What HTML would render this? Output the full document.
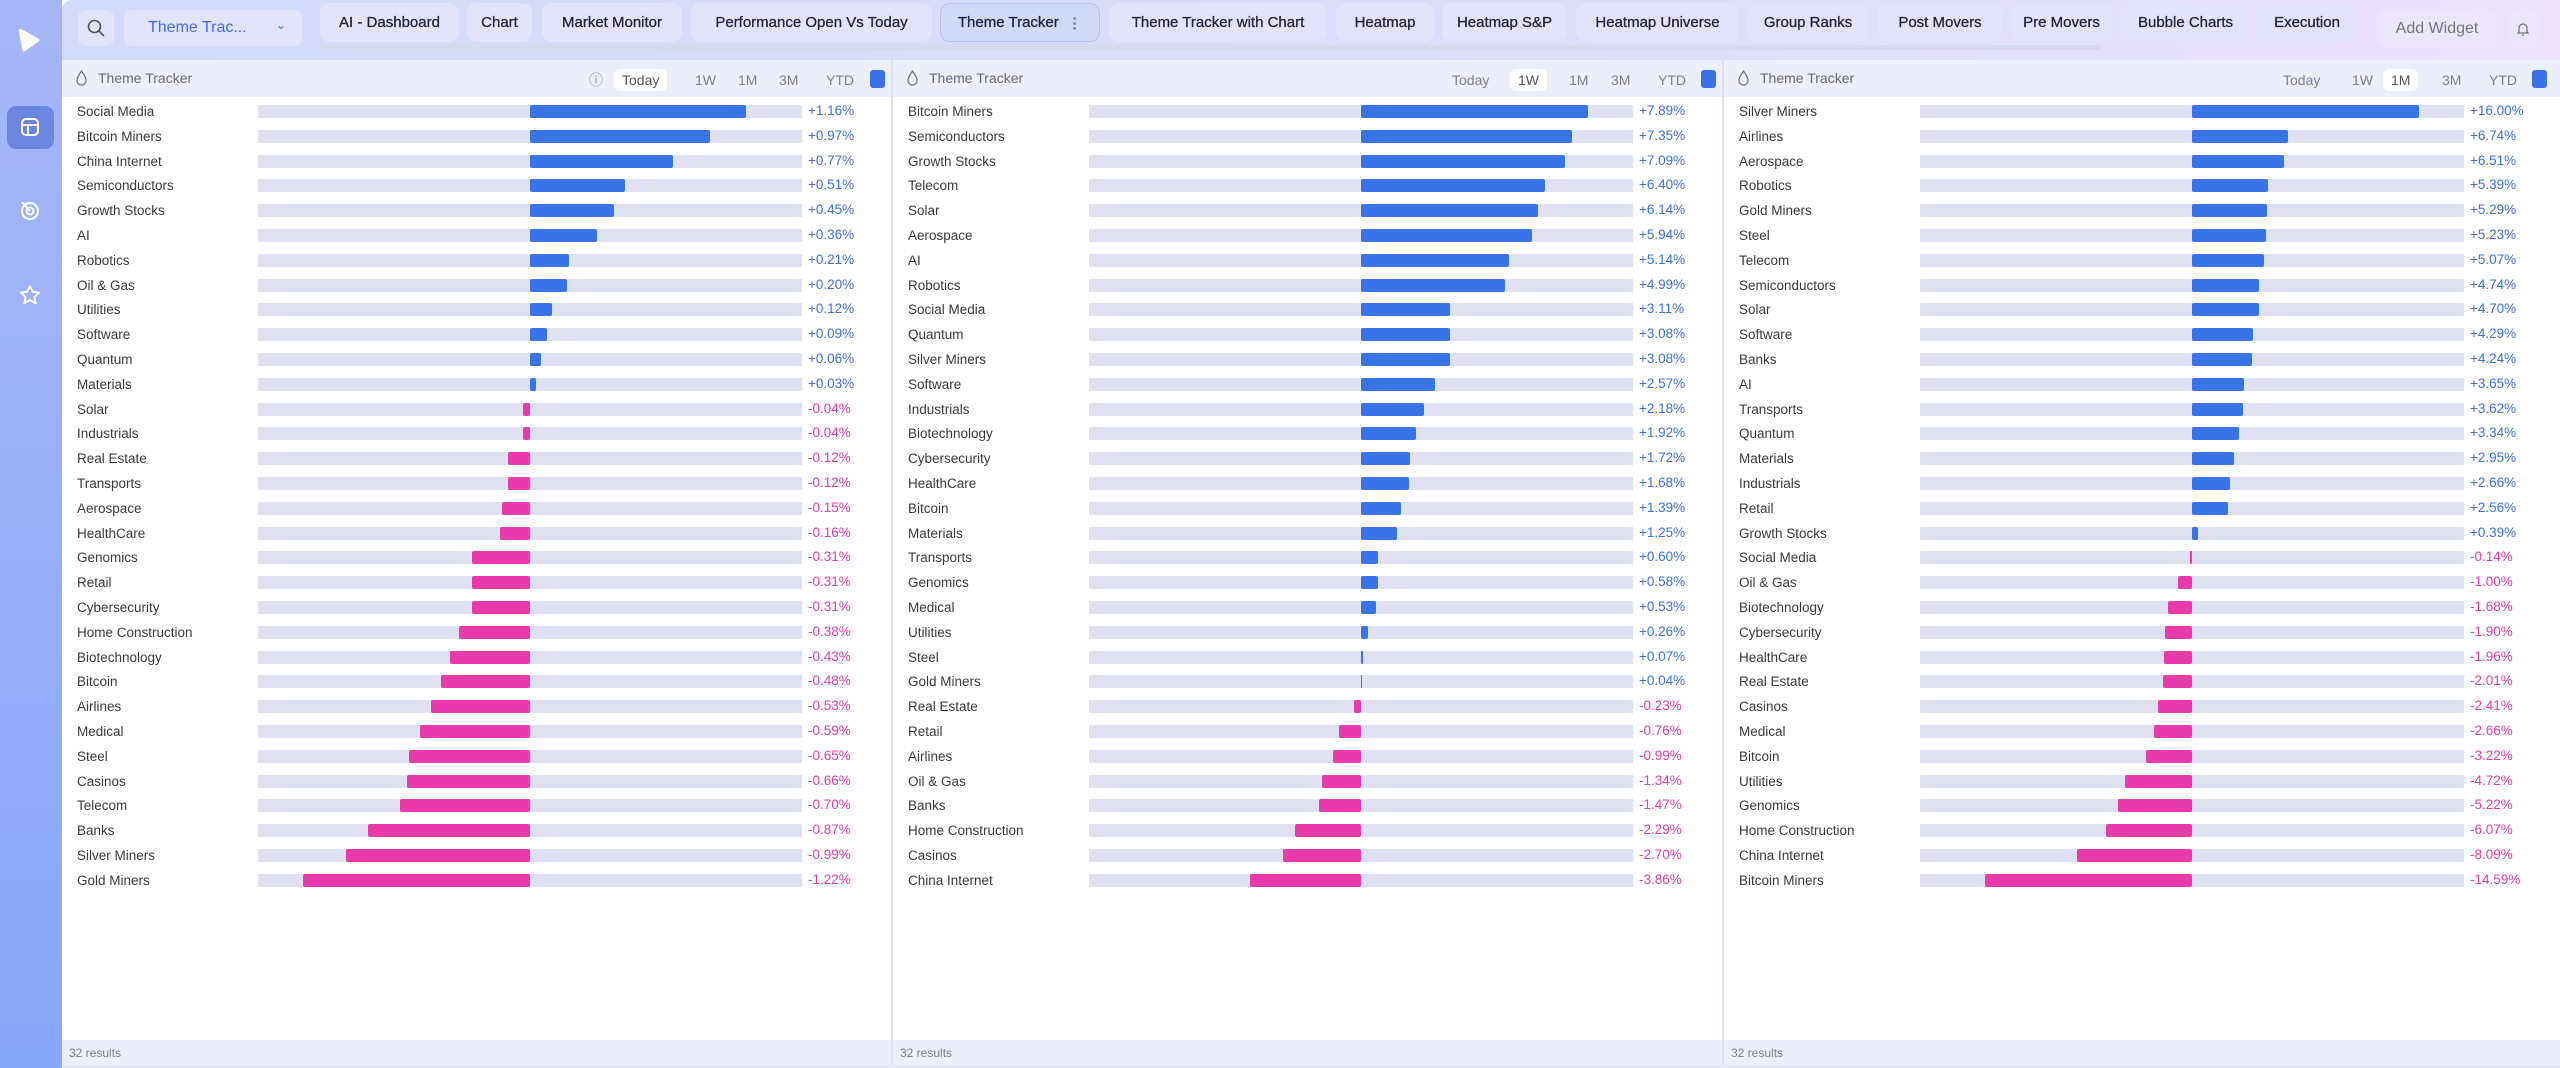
<!DOCTYPE html>
<html><head><meta charset="utf-8"><style>
*{box-sizing:border-box;margin:0;padding:0}
body{width:2560px;height:1068px;overflow:hidden;font-family:"Liberation Sans",sans-serif;background:#fff;position:relative}
.side{position:absolute;left:0;top:0;width:62px;height:1068px;background:linear-gradient(#a6b6f6,#88a8fb)}
.top{position:absolute;left:62px;top:0;right:0;height:60px;background:linear-gradient(90deg,#d3d9f9,#dcdcf9 60%,#ebe2f9);border-radius:10px 0 0 0}
.tab{position:absolute;top:3px;height:39px;border-radius:10px;background:#e2e3fb;color:#23263f;font-size:15px;display:flex;align-items:center;justify-content:center;white-space:nowrap;-webkit-text-stroke:0.3px #23263f}
.panel{position:absolute;top:60px;height:1008px;background:#fff;border-right:2px solid #dde1f3}
.hd{position:absolute;left:0;right:0;top:0;height:37px;background:#eceefb}
.hd .t{position:absolute;left:36px;top:10px;font-size:14px;color:#666a80}
.rg{position:absolute;top:9px;font-size:14px;color:#7b7f95;height:22px;line-height:22px;padding:0 8px;border-radius:6px}
.rg.a{background:#fff;color:#555}
.sq{position:absolute;top:10px;width:15px;height:18px;border-radius:3px;background:#3a72e6}
.rows{position:absolute;top:99px;left:0;right:0}
.r{height:24.8px;position:relative}
.r .l{position:absolute;left:15px;top:5px;font-size:13.5px;color:#3a3a3a}
.r .tr{position:absolute;left:196px;width:544px;top:6px;height:13px;background:#dfe1f0}
.r .tr i{position:absolute;top:0;height:13px;border-radius:2px}
.r .tr i.p{left:272px;background:#3874e6}
.r .tr i.n{right:272px;background:#e93aab}
.r .v{position:absolute;left:746px;top:4px;font-size:13.5px}
.v.p{color:#3a6fe8}.v.n{color:#e93aa8}
.ft{position:absolute;left:0;right:0;top:980px;height:25px;background:#eceefb;font-size:12px;color:#7b7f95;padding:6px 0 0 7px}
.fl{position:absolute;left:14px;top:10px}
</style></head><body>
<div class="side">
<svg style="position:absolute;left:18px;top:28px" width="22" height="24" viewBox="0 0 22 24"><path d="M2 2 L20 12 L6 22 Z" fill="#fff" stroke="#fff" stroke-width="3" stroke-linejoin="round"/></svg>
<div style="position:absolute;left:7px;top:106px;width:47px;height:43px;border-radius:9px;background:#6b86de"></div>
<svg style="position:absolute;left:20px;top:117px" width="20" height="20" viewBox="0 0 20 20" fill="none" stroke="#fff" stroke-width="2"><rect x="2" y="2" width="16" height="16" rx="4"/><path d="M2 8h16M8 8v10"/></svg>
<svg style="position:absolute;left:19px;top:199px" width="22" height="22" viewBox="0 0 22 22" fill="none" stroke="#fff" stroke-width="2"><circle cx="11" cy="12" r="8"/><circle cx="11" cy="12" r="3.5"/><path d="M3 3l8 9"/></svg>
<svg style="position:absolute;left:19px;top:284px" width="22" height="22" viewBox="0 0 24 24" fill="none" stroke="#fff" stroke-width="2" stroke-linejoin="round"><path d="M12 2l3 6.5 7 .8-5.2 4.8 1.4 7-6.2-3.6-6.2 3.6 1.4-7L2 9.3l7-.8z"/></svg>
</div>
<div class="top">
<div style="position:absolute;left:16px;top:10px;width:36px;height:36px;border-radius:8px;background:#e2e3fb"></div>
<svg style="position:absolute;left:25px;top:19px" width="18" height="18" viewBox="0 0 18 18" fill="none" stroke="#555" stroke-width="1.6"><circle cx="7.5" cy="7.5" r="6"/><path d="M12 12l5 5"/></svg>
<div style="position:absolute;left:62px;top:10px;width:178px;height:36px;border-radius:8px;background:#e2e3fb;color:#3a6fe8;font-size:16px;padding:9px 0 0 24px">Theme Trac... <span style="position:absolute;left:152px;top:8px;font-size:12px">&#8964;</span></div>
<div style="position:absolute;left:258px;top:45px;width:1780px;height:5px;border-radius:3px;background:#d6d8ee"></div>
</div>
<div class="tab" style="left:320px;width:139px">AI - Dashboard</div>
<div class="tab" style="left:467px;width:65px">Chart</div>
<div class="tab" style="left:542px;width:140px">Market Monitor</div>
<div class="tab" style="left:691px;width:241px">Performance Open Vs Today</div>
<div class="tab" style="left:940px;width:160px;background:#d2d8f8;border:1px solid #b9c4f2">Theme Tracker&nbsp;&nbsp;<span style="color:#999">&#8942;</span></div>
<div class="tab" style="left:1109px;width:218px">Theme Tracker with Chart</div>
<div class="tab" style="left:1336px;width:98px">Heatmap</div>
<div class="tab" style="left:1442px;width:125px">Heatmap S&amp;P</div>
<div class="tab" style="left:1576px;width:163px">Heatmap Universe</div>
<div class="tab" style="left:1747px;width:122px">Group Ranks</div>
<div class="tab" style="left:1878px;width:124px">Post Movers</div>
<div class="tab" style="left:2010px;width:103px">Pre Movers</div>
<div class="tab" style="left:2121px;width:129px">Bubble Charts</div>
<div class="tab" style="left:2258px;width:98px">Execution</div>
<div class="tab" style="left:2377px;top:10px;width:120px;height:37px;background:#ebe5fa;color:#777;-webkit-text-stroke:0;font-size:16px">Add Widget</div>
<div class="tab" style="left:2508px;top:10px;width:30px;height:37px;background:#ebe5fa;-webkit-text-stroke:0"><svg width="12" height="16" viewBox="0 0 12 16" fill="none" stroke="#777" stroke-width="1.3"><path d="M2 11V7a4 4 0 0 1 8 0v4l1 1H1z"/><path d="M5 14h2"/></svg></div>

<!-- Panel 1 -->
<div class="panel" style="left:62px;width:831px">
<div class="hd"><svg class="fl" width="11" height="16" viewBox="0 0 11 16" fill="none" stroke="#777" stroke-width="1.3"><path d="M5.5 1C3 5 1 7 1 10.5a4.5 4.5 0 0 0 9 0C10 7 8 5 5.5 1z"/></svg><span class="t">Theme Tracker</span>
<span class="rg" style="left:519px;color:#888">&#9432;</span>
<span class="rg a" style="left:552px">Today</span><span class="rg" style="left:625px">1W</span><span class="rg" style="left:668px">1M</span><span class="rg" style="left:709px">3M</span><span class="rg" style="left:756px">YTD</span><span class="sq" style="left:808px"></span></div>
<div class="rows" style="top:39px">
<div class="r"><span class="l">Social Media</span><div class="tr"><i class="p" style="width:216px"></i></div><span class="v p">+1.16%</span></div>
<div class="r"><span class="l">Bitcoin Miners</span><div class="tr"><i class="p" style="width:180px"></i></div><span class="v p">+0.97%</span></div>
<div class="r"><span class="l">China Internet</span><div class="tr"><i class="p" style="width:143px"></i></div><span class="v p">+0.77%</span></div>
<div class="r"><span class="l">Semiconductors</span><div class="tr"><i class="p" style="width:95px"></i></div><span class="v p">+0.51%</span></div>
<div class="r"><span class="l">Growth Stocks</span><div class="tr"><i class="p" style="width:84px"></i></div><span class="v p">+0.45%</span></div>
<div class="r"><span class="l">AI</span><div class="tr"><i class="p" style="width:67px"></i></div><span class="v p">+0.36%</span></div>
<div class="r"><span class="l">Robotics</span><div class="tr"><i class="p" style="width:39px"></i></div><span class="v p">+0.21%</span></div>
<div class="r"><span class="l">Oil &amp; Gas</span><div class="tr"><i class="p" style="width:37px"></i></div><span class="v p">+0.20%</span></div>
<div class="r"><span class="l">Utilities</span><div class="tr"><i class="p" style="width:22px"></i></div><span class="v p">+0.12%</span></div>
<div class="r"><span class="l">Software</span><div class="tr"><i class="p" style="width:17px"></i></div><span class="v p">+0.09%</span></div>
<div class="r"><span class="l">Quantum</span><div class="tr"><i class="p" style="width:11px"></i></div><span class="v p">+0.06%</span></div>
<div class="r"><span class="l">Materials</span><div class="tr"><i class="p" style="width:6px"></i></div><span class="v p">+0.03%</span></div>
<div class="r"><span class="l">Solar</span><div class="tr"><i class="n" style="width:7px"></i></div><span class="v n">-0.04%</span></div>
<div class="r"><span class="l">Industrials</span><div class="tr"><i class="n" style="width:7px"></i></div><span class="v n">-0.04%</span></div>
<div class="r"><span class="l">Real Estate</span><div class="tr"><i class="n" style="width:22px"></i></div><span class="v n">-0.12%</span></div>
<div class="r"><span class="l">Transports</span><div class="tr"><i class="n" style="width:22px"></i></div><span class="v n">-0.12%</span></div>
<div class="r"><span class="l">Aerospace</span><div class="tr"><i class="n" style="width:28px"></i></div><span class="v n">-0.15%</span></div>
<div class="r"><span class="l">HealthCare</span><div class="tr"><i class="n" style="width:30px"></i></div><span class="v n">-0.16%</span></div>
<div class="r"><span class="l">Genomics</span><div class="tr"><i class="n" style="width:58px"></i></div><span class="v n">-0.31%</span></div>
<div class="r"><span class="l">Retail</span><div class="tr"><i class="n" style="width:58px"></i></div><span class="v n">-0.31%</span></div>
<div class="r"><span class="l">Cybersecurity</span><div class="tr"><i class="n" style="width:58px"></i></div><span class="v n">-0.31%</span></div>
<div class="r"><span class="l">Home Construction</span><div class="tr"><i class="n" style="width:71px"></i></div><span class="v n">-0.38%</span></div>
<div class="r"><span class="l">Biotechnology</span><div class="tr"><i class="n" style="width:80px"></i></div><span class="v n">-0.43%</span></div>
<div class="r"><span class="l">Bitcoin</span><div class="tr"><i class="n" style="width:89px"></i></div><span class="v n">-0.48%</span></div>
<div class="r"><span class="l">Airlines</span><div class="tr"><i class="n" style="width:99px"></i></div><span class="v n">-0.53%</span></div>
<div class="r"><span class="l">Medical</span><div class="tr"><i class="n" style="width:110px"></i></div><span class="v n">-0.59%</span></div>
<div class="r"><span class="l">Steel</span><div class="tr"><i class="n" style="width:121px"></i></div><span class="v n">-0.65%</span></div>
<div class="r"><span class="l">Casinos</span><div class="tr"><i class="n" style="width:123px"></i></div><span class="v n">-0.66%</span></div>
<div class="r"><span class="l">Telecom</span><div class="tr"><i class="n" style="width:130px"></i></div><span class="v n">-0.70%</span></div>
<div class="r"><span class="l">Banks</span><div class="tr"><i class="n" style="width:162px"></i></div><span class="v n">-0.87%</span></div>
<div class="r"><span class="l">Silver Miners</span><div class="tr"><i class="n" style="width:184px"></i></div><span class="v n">-0.99%</span></div>
<div class="r"><span class="l">Gold Miners</span><div class="tr"><i class="n" style="width:227px"></i></div><span class="v n">-1.22%</span></div>
</div>
<div class="ft">32 results</div>
</div>

<!-- Panel 2 -->
<div class="panel" style="left:893px;width:831px">
<div class="hd"><svg class="fl" width="11" height="16" viewBox="0 0 11 16" fill="none" stroke="#777" stroke-width="1.3"><path d="M5.5 1C3 5 1 7 1 10.5a4.5 4.5 0 0 0 9 0C10 7 8 5 5.5 1z"/></svg><span class="t">Theme Tracker</span>
<span class="rg" style="left:551px">Today</span><span class="rg a" style="left:617px">1W</span><span class="rg" style="left:668px">1M</span><span class="rg" style="left:710px">3M</span><span class="rg" style="left:757px">YTD</span><span class="sq" style="left:808px"></span></div>
<div class="rows" style="top:39px">
<div class="r"><span class="l">Bitcoin Miners</span><div class="tr"><i class="p" style="width:227px"></i></div><span class="v p">+7.89%</span></div>
<div class="r"><span class="l">Semiconductors</span><div class="tr"><i class="p" style="width:211px"></i></div><span class="v p">+7.35%</span></div>
<div class="r"><span class="l">Growth Stocks</span><div class="tr"><i class="p" style="width:204px"></i></div><span class="v p">+7.09%</span></div>
<div class="r"><span class="l">Telecom</span><div class="tr"><i class="p" style="width:184px"></i></div><span class="v p">+6.40%</span></div>
<div class="r"><span class="l">Solar</span><div class="tr"><i class="p" style="width:177px"></i></div><span class="v p">+6.14%</span></div>
<div class="r"><span class="l">Aerospace</span><div class="tr"><i class="p" style="width:171px"></i></div><span class="v p">+5.94%</span></div>
<div class="r"><span class="l">AI</span><div class="tr"><i class="p" style="width:148px"></i></div><span class="v p">+5.14%</span></div>
<div class="r"><span class="l">Robotics</span><div class="tr"><i class="p" style="width:144px"></i></div><span class="v p">+4.99%</span></div>
<div class="r"><span class="l">Social Media</span><div class="tr"><i class="p" style="width:89px"></i></div><span class="v p">+3.11%</span></div>
<div class="r"><span class="l">Quantum</span><div class="tr"><i class="p" style="width:89px"></i></div><span class="v p">+3.08%</span></div>
<div class="r"><span class="l">Silver Miners</span><div class="tr"><i class="p" style="width:89px"></i></div><span class="v p">+3.08%</span></div>
<div class="r"><span class="l">Software</span><div class="tr"><i class="p" style="width:74px"></i></div><span class="v p">+2.57%</span></div>
<div class="r"><span class="l">Industrials</span><div class="tr"><i class="p" style="width:63px"></i></div><span class="v p">+2.18%</span></div>
<div class="r"><span class="l">Biotechnology</span><div class="tr"><i class="p" style="width:55px"></i></div><span class="v p">+1.92%</span></div>
<div class="r"><span class="l">Cybersecurity</span><div class="tr"><i class="p" style="width:49px"></i></div><span class="v p">+1.72%</span></div>
<div class="r"><span class="l">HealthCare</span><div class="tr"><i class="p" style="width:48px"></i></div><span class="v p">+1.68%</span></div>
<div class="r"><span class="l">Bitcoin</span><div class="tr"><i class="p" style="width:40px"></i></div><span class="v p">+1.39%</span></div>
<div class="r"><span class="l">Materials</span><div class="tr"><i class="p" style="width:36px"></i></div><span class="v p">+1.25%</span></div>
<div class="r"><span class="l">Transports</span><div class="tr"><i class="p" style="width:17px"></i></div><span class="v p">+0.60%</span></div>
<div class="r"><span class="l">Genomics</span><div class="tr"><i class="p" style="width:17px"></i></div><span class="v p">+0.58%</span></div>
<div class="r"><span class="l">Medical</span><div class="tr"><i class="p" style="width:15px"></i></div><span class="v p">+0.53%</span></div>
<div class="r"><span class="l">Utilities</span><div class="tr"><i class="p" style="width:7px"></i></div><span class="v p">+0.26%</span></div>
<div class="r"><span class="l">Steel</span><div class="tr"><i class="p" style="width:2px"></i></div><span class="v p">+0.07%</span></div>
<div class="r"><span class="l">Gold Miners</span><div class="tr"><i class="p" style="width:1px"></i></div><span class="v p">+0.04%</span></div>
<div class="r"><span class="l">Real Estate</span><div class="tr"><i class="n" style="width:7px"></i></div><span class="v n">-0.23%</span></div>
<div class="r"><span class="l">Retail</span><div class="tr"><i class="n" style="width:22px"></i></div><span class="v n">-0.76%</span></div>
<div class="r"><span class="l">Airlines</span><div class="tr"><i class="n" style="width:28px"></i></div><span class="v n">-0.99%</span></div>
<div class="r"><span class="l">Oil &amp; Gas</span><div class="tr"><i class="n" style="width:39px"></i></div><span class="v n">-1.34%</span></div>
<div class="r"><span class="l">Banks</span><div class="tr"><i class="n" style="width:42px"></i></div><span class="v n">-1.47%</span></div>
<div class="r"><span class="l">Home Construction</span><div class="tr"><i class="n" style="width:66px"></i></div><span class="v n">-2.29%</span></div>
<div class="r"><span class="l">Casinos</span><div class="tr"><i class="n" style="width:78px"></i></div><span class="v n">-2.70%</span></div>
<div class="r"><span class="l">China Internet</span><div class="tr"><i class="n" style="width:111px"></i></div><span class="v n">-3.86%</span></div>
</div>
<div class="ft">32 results</div>
</div>

<!-- Panel 3 -->
<div class="panel" style="left:1724px;width:836px;border-right:none">
<div class="hd"><svg class="fl" width="11" height="16" viewBox="0 0 11 16" fill="none" stroke="#777" stroke-width="1.3"><path d="M5.5 1C3 5 1 7 1 10.5a4.5 4.5 0 0 0 9 0C10 7 8 5 5.5 1z"/></svg><span class="t">Theme Tracker</span>
<span class="rg" style="left:551px">Today</span><span class="rg" style="left:620px">1W</span><span class="rg a" style="left:659px">1M</span><span class="rg" style="left:710px">3M</span><span class="rg" style="left:757px">YTD</span><span class="sq" style="left:808px"></span></div>
<div class="rows" style="top:39px">
<div class="r"><span class="l">Silver Miners</span><div class="tr"><i class="p" style="width:227px"></i></div><span class="v p">+16.00%</span></div>
<div class="r"><span class="l">Airlines</span><div class="tr"><i class="p" style="width:96px"></i></div><span class="v p">+6.74%</span></div>
<div class="r"><span class="l">Aerospace</span><div class="tr"><i class="p" style="width:92px"></i></div><span class="v p">+6.51%</span></div>
<div class="r"><span class="l">Robotics</span><div class="tr"><i class="p" style="width:76px"></i></div><span class="v p">+5.39%</span></div>
<div class="r"><span class="l">Gold Miners</span><div class="tr"><i class="p" style="width:75px"></i></div><span class="v p">+5.29%</span></div>
<div class="r"><span class="l">Steel</span><div class="tr"><i class="p" style="width:74px"></i></div><span class="v p">+5.23%</span></div>
<div class="r"><span class="l">Telecom</span><div class="tr"><i class="p" style="width:72px"></i></div><span class="v p">+5.07%</span></div>
<div class="r"><span class="l">Semiconductors</span><div class="tr"><i class="p" style="width:67px"></i></div><span class="v p">+4.74%</span></div>
<div class="r"><span class="l">Solar</span><div class="tr"><i class="p" style="width:67px"></i></div><span class="v p">+4.70%</span></div>
<div class="r"><span class="l">Software</span><div class="tr"><i class="p" style="width:61px"></i></div><span class="v p">+4.29%</span></div>
<div class="r"><span class="l">Banks</span><div class="tr"><i class="p" style="width:60px"></i></div><span class="v p">+4.24%</span></div>
<div class="r"><span class="l">AI</span><div class="tr"><i class="p" style="width:52px"></i></div><span class="v p">+3.65%</span></div>
<div class="r"><span class="l">Transports</span><div class="tr"><i class="p" style="width:51px"></i></div><span class="v p">+3.62%</span></div>
<div class="r"><span class="l">Quantum</span><div class="tr"><i class="p" style="width:47px"></i></div><span class="v p">+3.34%</span></div>
<div class="r"><span class="l">Materials</span><div class="tr"><i class="p" style="width:42px"></i></div><span class="v p">+2.95%</span></div>
<div class="r"><span class="l">Industrials</span><div class="tr"><i class="p" style="width:38px"></i></div><span class="v p">+2.66%</span></div>
<div class="r"><span class="l">Retail</span><div class="tr"><i class="p" style="width:36px"></i></div><span class="v p">+2.56%</span></div>
<div class="r"><span class="l">Growth Stocks</span><div class="tr"><i class="p" style="width:6px"></i></div><span class="v p">+0.39%</span></div>
<div class="r"><span class="l">Social Media</span><div class="tr"><i class="n" style="width:2px"></i></div><span class="v n">-0.14%</span></div>
<div class="r"><span class="l">Oil &amp; Gas</span><div class="tr"><i class="n" style="width:14px"></i></div><span class="v n">-1.00%</span></div>
<div class="r"><span class="l">Biotechnology</span><div class="tr"><i class="n" style="width:24px"></i></div><span class="v n">-1.68%</span></div>
<div class="r"><span class="l">Cybersecurity</span><div class="tr"><i class="n" style="width:27px"></i></div><span class="v n">-1.90%</span></div>
<div class="r"><span class="l">HealthCare</span><div class="tr"><i class="n" style="width:28px"></i></div><span class="v n">-1.96%</span></div>
<div class="r"><span class="l">Real Estate</span><div class="tr"><i class="n" style="width:29px"></i></div><span class="v n">-2.01%</span></div>
<div class="r"><span class="l">Casinos</span><div class="tr"><i class="n" style="width:34px"></i></div><span class="v n">-2.41%</span></div>
<div class="r"><span class="l">Medical</span><div class="tr"><i class="n" style="width:38px"></i></div><span class="v n">-2.66%</span></div>
<div class="r"><span class="l">Bitcoin</span><div class="tr"><i class="n" style="width:46px"></i></div><span class="v n">-3.22%</span></div>
<div class="r"><span class="l">Utilities</span><div class="tr"><i class="n" style="width:67px"></i></div><span class="v n">-4.72%</span></div>
<div class="r"><span class="l">Genomics</span><div class="tr"><i class="n" style="width:74px"></i></div><span class="v n">-5.22%</span></div>
<div class="r"><span class="l">Home Construction</span><div class="tr"><i class="n" style="width:86px"></i></div><span class="v n">-6.07%</span></div>
<div class="r"><span class="l">China Internet</span><div class="tr"><i class="n" style="width:115px"></i></div><span class="v n">-8.09%</span></div>
<div class="r"><span class="l">Bitcoin Miners</span><div class="tr"><i class="n" style="width:207px"></i></div><span class="v n">-14.59%</span></div>
</div>
<div class="ft">32 results</div>
</div>
<div style="position:absolute;left:62px;right:0;top:1065px;height:3px;background:#e4e7f6"></div>
</body></html>
